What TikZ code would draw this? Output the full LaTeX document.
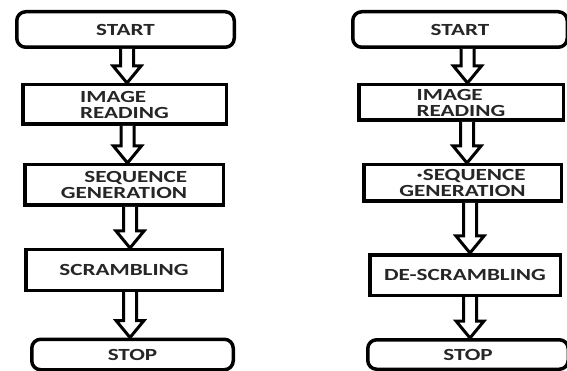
\documentclass[tikz,border=0pt]{standalone}
\usepackage{fontspec}
\setmainfont{Carlito}[FakeStretch=1.36]
\usetikzlibrary{calc}
\tikzset{
  box/.style={draw=black, line width=3.5pt, fill=white, rectangle, inner sep=0pt,
    font=\fontsize{17}{16}\selectfont\bfseries, text=black!85},
  term/.style={box, rounded corners=9pt},
  arr/.style={draw=black, line width=3pt, fill=white, line join=miter}
}
\newcommand\barrow[3]{%
  \coordinate (t) at (#3,0 |- #1.south);
  \coordinate (h) at (#3,0 |- #2.north);
  \draw[arr] ($(t)+(-6.5,0)$) -- ($(h)+(-6.5,-17)$) -- ($(h)+(-14,-17)$) -- (h)
    -- ($(h)+(14,-17)$) -- ($(h)+(6.5,-17)$) -- ($(t)+(6.5,0)$);
}
\begin{document}
\begin{tikzpicture}[x=1pt,y=-1pt]
\useasboundingbox (0,0) rectangle (567,371);
\clip (0,0) rectangle (567,371);
\fill[white] (0,0) rectangle (567,371);
% left chart
\node[term, minimum width=217.5pt, minimum height=35.5pt] (l1) at (125.5,29.5) {START};
\node[box, minimum width=203.5pt, minimum height=39.5pt, align=left] (l2) at (124.5,104.5) {IMAGE\\READING};
\node[box, minimum width=198.5pt, minimum height=40.5pt, align=right] (l3) at (124,185) {SEQUENCE\\GENERATION};
\node[box, minimum width=196.5pt, minimum height=40.5pt] (l4) at (124,270) {SCRAMBLING};
\node[term, minimum width=201.5pt, minimum height=30.5pt] (l5) at (132.5,354.5) {STOP};
% right chart
\node[term, minimum width=214.5pt, minimum height=35.5pt] (r1) at (460,29.5) {START};
\node[box, minimum width=204.5pt, minimum height=35.5pt, align=left] (r2) at (461,102.5) {IMAGE\\READING};
\node[box, minimum width=197.5pt, minimum height=36.5pt, align=right] (r3) at (462.5,183) {·SEQUENCE\\GENERATION};
\node[box, minimum width=190.5pt, minimum height=40.5pt] (r4) at (465,275) {DE-SCRAMBLING};
\node[term, minimum width=200.5pt, minimum height=29.5pt] (r5) at (468,354.5) {STOP};
% arrows
\barrow{l1}{l2}{127}
\barrow{l2}{l3}{127.5}
\barrow{l3}{l4}{130}
\barrow{l4}{l5}{130}
\barrow{r1}{r2}{467.5}
\barrow{r2}{r3}{467}
\barrow{r3}{r4}{470}
\barrow{r4}{r5}{470}
\end{tikzpicture}
\end{document}
